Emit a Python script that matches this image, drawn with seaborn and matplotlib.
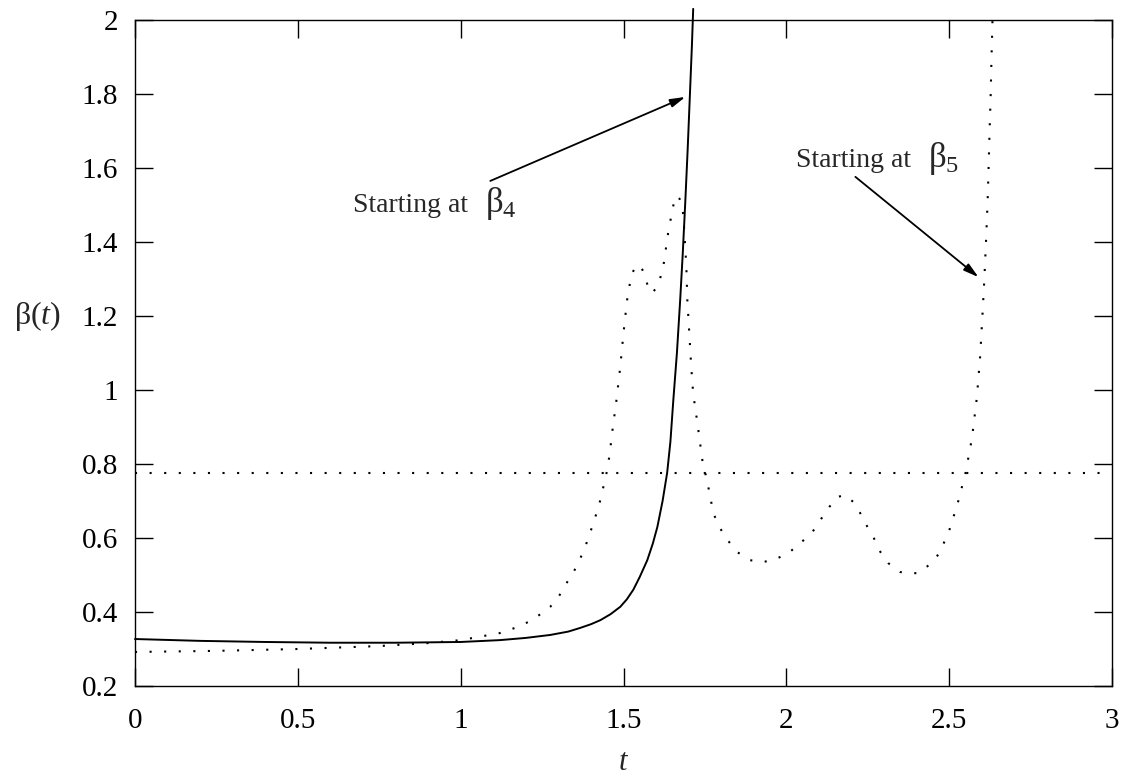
import matplotlib
matplotlib.use("Agg")
import matplotlib.pyplot as plt
import seaborn as sns
import pandas as pd

# ---- data ----
t_beta4 = [0.0, 0.2, 0.4, 0.6, 0.8, 1.0, 1.12, 1.2, 1.275, 1.33, 1.367, 1.40, 1.429,
           1.46, 1.49, 1.51, 1.53, 1.55, 1.573, 1.59, 1.604, 1.62, 1.634, 1.644,
           1.653, 1.664, 1.674, 1.682, 1.690, 1.697, 1.704, 1.710, 1.714]
b_beta4 = [0.327, 0.322, 0.319, 0.317, 0.317, 0.319, 0.324, 0.330, 0.338, 0.347,
           0.357, 0.367, 0.378, 0.394, 0.414, 0.434, 0.46, 0.495, 0.54, 0.585, 0.63,
           0.70, 0.776, 0.86, 0.973, 1.10, 1.243, 1.37, 1.514, 1.65, 1.80, 1.93, 2.03]

t_beta5 = [0.0, 0.25, 0.5, 0.75, 0.9, 1.0, 1.12, 1.17, 1.22, 1.275, 1.30, 1.325,
           1.345, 1.365, 1.382, 1.397, 1.413, 1.428, 1.44, 1.45, 1.458, 1.465,
           1.478, 1.49, 1.50, 1.511, 1.52, 1.528, 1.538, 1.548, 1.558, 1.568, 1.578,
           1.588, 1.60, 1.612, 1.622, 1.637, 1.65, 1.657, 1.664, 1.672, 1.680,
           1.684, 1.687, 1.693, 1.696, 1.702, 1.708, 1.714, 1.727, 1.742, 1.751,
           1.760, 1.776, 1.794, 1.819, 1.849, 1.889, 1.926, 1.960, 2.006, 2.043,
           2.080, 2.104, 2.132, 2.157, 2.181, 2.206, 2.227, 2.249, 2.267, 2.289,
           2.313, 2.350, 2.378, 2.402, 2.421, 2.452, 2.470, 2.50, 2.525, 2.55,
           2.57, 2.585, 2.595, 2.602, 2.608, 2.613, 2.618, 2.621, 2.624, 2.627,
           2.630, 2.633]
b_beta5 = [0.292, 0.295, 0.300, 0.308, 0.316, 0.324, 0.343, 0.358, 0.378, 0.414,
           0.44, 0.478, 0.505, 0.54, 0.575, 0.613, 0.655, 0.70, 0.745, 0.784, 0.83,
           0.884, 0.97, 1.062, 1.154, 1.243, 1.290, 1.318, 1.334, 1.338, 1.325,
           1.300, 1.272, 1.262, 1.275, 1.30, 1.332, 1.424, 1.486, 1.515, 1.525,
           1.517, 1.495, 1.47, 1.424, 1.332, 1.243, 1.154, 1.062, 0.99, 0.91,
           0.811, 0.776, 0.74, 0.667, 0.63, 0.595, 0.562, 0.54, 0.535, 0.54, 0.559,
           0.586, 0.616, 0.648, 0.684, 0.711, 0.716, 0.697, 0.667, 0.63, 0.603,
           0.562, 0.532, 0.508, 0.505, 0.505, 0.513, 0.54, 0.559, 0.62, 0.69,
           0.775, 0.87, 0.98, 1.09, 1.20, 1.30, 1.40, 1.51, 1.60, 1.70, 1.784,
           1.90, 2.0]

threshold = 0.775

x_ticks = [0, 0.5, 1, 1.5, 2, 2.5, 3]
x_tick_labels = ["0", "0.5", "1", "1.5", "2", "2.5", "3"]
y_ticks = [0.2, 0.4, 0.6, 0.8, 1.0, 1.2, 1.4, 1.6, 1.8, 2.0]
y_tick_labels = ["0.2", "0.4", "0.6", "0.8", "1", "1.2", "1.4", "1.6", "1.8", "2"]

label_start = "Starting at"
label_b4 = "β$_4$"
label_b5 = "β$_5$"
arrow_b4 = ((1.091, 1.565), (1.690, 1.792))   # (tail, head)
arrow_b5 = ((2.212, 1.576), (2.590, 1.305))
text_b4_pos = (0.670, 1.481)
beta_b4_pos = (1.075, 1.481)
text_b5_pos = (2.030, 1.603)
beta_b5_pos = (2.435, 1.603)

# ---- styling ----
sns.set_style("ticks")
plt.rcParams["font.family"] = ["Liberation Serif", "DejaVu Serif"]
plt.rcParams["mathtext.fontset"] = "custom"
plt.rcParams["mathtext.rm"] = "Liberation Serif"
plt.rcParams["mathtext.it"] = "Liberation Serif:italic"

fig = plt.figure(figsize=(11.21, 7.77), dpi=100)
ax = fig.add_axes([0.1204, 0.1171, 0.8716, 0.8572])

df4 = pd.DataFrame({"t": t_beta4, "beta": b_beta4})
df5 = pd.DataFrame({"t": t_beta5, "beta": b_beta5})

sns.lineplot(data=df4, x="t", y="beta", ax=ax, color="black", linewidth=1.4,
             estimator=None, sort=False, clip_on=False)
sns.lineplot(data=df5, x="t", y="beta", ax=ax, color="black", linewidth=1.5,
             linestyle=(0, (1, 6)), estimator=None, sort=False, clip_on=False)
ax.plot([x_ticks[0], x_ticks[-1]], [threshold, threshold], color="black",
        linewidth=1.5, linestyle=(0, (1, 6)))

ax.set_xlim(0, 3)
ax.set_ylim(0.2, 2.0)
ax.set_xticks(x_ticks)
ax.set_xticklabels(x_tick_labels)
ax.set_yticks(y_ticks)
ax.set_yticklabels(y_tick_labels)
ax.tick_params(direction="in", length=13, width=1.0, top=True, right=True,
               labelsize=21, colors="black")
ax.tick_params(axis="x", pad=16)
ax.tick_params(axis="y", pad=12)
for s in ax.spines.values():
    s.set_linewidth(1.0)
    s.set_color("black")

ax.set_xlabel("$t$", fontsize=22, labelpad=10)
ax.set_ylabel("β($t$)", fontsize=23, rotation=0, va="center", ha="center")
ax.yaxis.set_label_coords(-0.100, 0.556)

for (tail, head) in (arrow_b4, arrow_b5):
    ax.annotate("", xy=head, xytext=tail,
                arrowprops=dict(arrowstyle="-|>,head_length=0.9,head_width=0.25",
                                color="black", lw=1.3, shrinkA=0, shrinkB=0))

ax.text(*text_b4_pos, label_start, fontsize=20, va="baseline", ha="left")
ax.text(*beta_b4_pos, label_b4, fontsize=25, va="baseline", ha="left")
ax.text(*text_b5_pos, label_start, fontsize=20, va="baseline", ha="left")
ax.text(*beta_b5_pos, label_b5, fontsize=25, va="baseline", ha="left")

fig.savefig("out.png", dpi=100)
